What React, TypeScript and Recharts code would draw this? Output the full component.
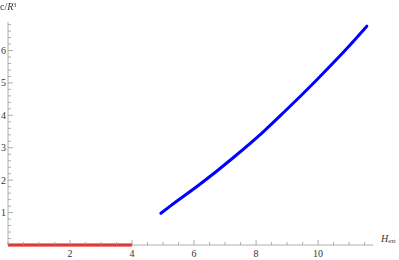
import { LineChart, Line, XAxis, YAxis } from "recharts";

// lower branch (red), on the axis
const redX = [0, 4];
const redY = [0, 0];

// upper branch (blue)
const blueX = [4.93, 5.23, 6.2, 7.27, 8.24, 8.88, 9.96, 11.03, 11.57];
const blueY = [0.98, 1.2, 1.88, 2.7, 3.5, 4.08, 5.1, 6.17, 6.75];

const xTicks = [0, 0.5, 1, 1.5, 2, 2.5, 3, 3.5, 4, 4.5, 5, 5.5, 6, 6.5, 7, 7.5, 8, 8.5, 9, 9.5, 10, 10.5, 11, 11.5];
const xLabels = [2, 4, 6, 8, 10];
const yTicks = [
  0.2, 0.4, 0.6, 0.8, 1, 1.2, 1.4, 1.6, 1.8, 2, 2.2, 2.4, 2.6, 2.8, 3, 3.2, 3.4, 3.6, 3.8, 4,
  4.2, 4.4, 4.6, 4.8, 5, 5.2, 5.4, 5.6, 5.8, 6, 6.2, 6.4, 6.6, 6.8,
];
const yLabels = [1, 2, 3, 4, 5, 6];

const redData = redX.map((x, i) => ({ x, y: redY[i] }));
const blueData = blueX.map((x, i) => ({ x, y: blueY[i] }));

const FONT = "'Liberation Serif', 'DejaVu Serif', serif";
const AXIS = "#9a9a9a";
const TXT = "#333";

const XTick = (props: any) => {
  const { x, y, payload } = props;
  const v = payload.value;
  const major = xLabels.includes(v);
  return (
    <g>
      <line x1={x} y1={y} x2={x} y2={y - (major ? 5 : 3)} stroke={AXIS} strokeWidth={0.8} />
      {major && (
        <text x={x} y={y + 12} textAnchor="middle" fontSize={10} fill={TXT} fontFamily={FONT}>
          {v}
        </text>
      )}
    </g>
  );
};

const YTick = (props: any) => {
  const { x, y, payload } = props;
  const v = Math.round(payload.value * 10) / 10;
  const major = yLabels.includes(v);
  return (
    <g>
      <line x1={x} y1={y} x2={x + (major ? 5 : 3)} y2={y} stroke={AXIS} strokeWidth={0.8} />
      {major && (
        <text x={x - 2} y={y + 3.5} textAnchor="end" fontSize={10} fill={TXT} fontFamily={FONT}>
          {v}
        </text>
      )}
    </g>
  );
};

export default function App() {
  return (
    <div style={{ position: "fixed", left: 0, top: 0, width: 399, height: 260, background: "#fff" }}>
      <LineChart width={399} height={260} margin={{ top: 22, right: 26, left: 0, bottom: 0 }}>
        <XAxis
          type="number"
          dataKey="x"
          domain={[0, 11.77]}
          ticks={xTicks}
          interval={0}
          height={15}
          tickSize={0}
          tickMargin={0}
          tick={<XTick />}
          axisLine={{ stroke: AXIS, strokeWidth: 0.8 }}
          tickLine={false}
        />
        <YAxis
          type="number"
          dataKey="y"
          domain={[0, 6.88]}
          ticks={yTicks}
          interval={0}
          width={8}
          tickSize={0}
          tickMargin={0}
          tick={<YTick />}
          axisLine={{ stroke: AXIS, strokeWidth: 0.8 }}
          tickLine={false}
        />
        <Line
          data={redData}
          dataKey="y"
          type="linear"
          stroke="#ff0000"
          strokeWidth={3}
          dot={false}
          isAnimationActive={false}
        />
        <Line
          data={blueData}
          dataKey="y"
          type="monotone"
          stroke="#0000ff"
          strokeWidth={3}
          strokeLinecap="round"
          dot={false}
          isAnimationActive={false}
        />
      </LineChart>
      <div
        style={{
          position: "absolute",
          left: 0,
          top: -1,
          fontFamily: FONT,
          fontSize: 10,
          color: TXT,
          lineHeight: "12px",
          whiteSpace: "nowrap",
        }}
      >
        c/<i>R</i>
        <sup style={{ fontSize: 6, verticalAlign: "3px" }}>3</sup>
      </div>
      <div
        style={{
          position: "absolute",
          left: 381,
          top: 233,
          fontFamily: FONT,
          fontSize: 10,
          color: TXT,
          lineHeight: "12px",
          whiteSpace: "nowrap",
        }}
      >
        <i>H</i>
        <sub style={{ fontSize: 6, verticalAlign: "-1px" }}>ext</sub>
      </div>
    </div>
  );
}
